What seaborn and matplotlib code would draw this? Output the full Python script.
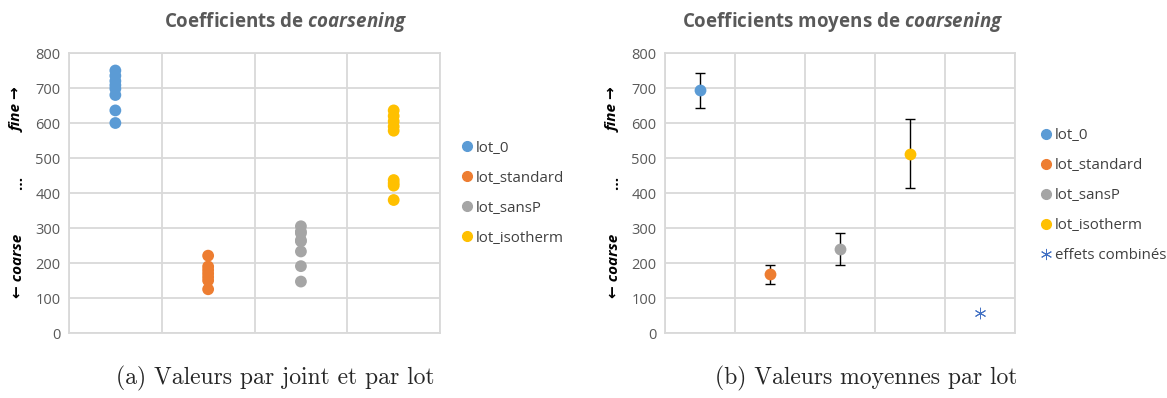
import pandas as pd
import matplotlib.pyplot as plt
import seaborn as sns
from matplotlib.lines import Line2D

# per-joint values
lots = ['lot_0', 'lot_standard', 'lot_sansP', 'lot_isotherm']
lot_0 = [750, 735, 720, 708, 698, 680, 636, 600]
lot_standard = [221, 190, 180, 170, 160, 150, 125]
lot_sansP = [305, 290, 285, 265, 262, 233, 191, 147]
lot_isotherm = [636, 620, 605, 590, 578, 437, 428, 421, 380]

# means and half-widths of the error bars, right panel
mean_lots = ['lot_0', 'lot_standard', 'lot_sansP', 'lot_isotherm', 'effets combinés']
mean_vals = [693, 168, 240, 512, 57]
mean_err = [49, 27, 47, 99, 0]

colors = ['#5B9BD5', '#ED7D31', '#A5A5A5', '#FFC000', '#4472C4']
grid_c = '#D9D9D9'
txt_c = '#595959'

sns.set_theme(style='white')
plt.rcParams['font.family'] = ['Open Sans', 'DejaVu Sans']
plt.rcParams['mathtext.fontset'] = 'custom'
plt.rcParams['mathtext.it'] = 'Open Sans:style=italic:weight=bold'

fig = plt.figure(figsize=(11.67, 3.98), dpi=100)
ax1 = fig.add_axes([0.0591, 0.1633, 0.318, 0.7035])
ax2 = fig.add_axes([0.5698, 0.1633, 0.300, 0.7035])

joints = pd.DataFrame({
    'lot': sum([[l] * len(v) for l, v in zip(lots, [lot_0, lot_standard, lot_sansP, lot_isotherm])], []),
    'valeur': lot_0 + lot_standard + lot_sansP + lot_isotherm,
})
sns.stripplot(data=joints, x='lot', y='valeur', hue='lot', palette=colors[:4],
              jitter=False, size=8.5, linewidth=0, legend=False, ax=ax1, zorder=3)

means = pd.DataFrame({'lot': mean_lots, 'valeur': mean_vals, 'err': mean_err})
sns.stripplot(data=means.iloc[:4], x='lot', y='valeur', hue='lot', order=mean_lots,
              palette=colors[:4], jitter=False, size=8.5, linewidth=0, legend=False,
              ax=ax2, zorder=3)
ax2.errorbar(range(4), mean_vals[:4], yerr=mean_err[:4], fmt='none', ecolor='black',
             elinewidth=1, capsize=3.5, capthick=1, zorder=2)
ax2.scatter([4], [mean_vals[4]], marker=(6, 2, 0), s=60, color=colors[4],
            linewidths=0.7, zorder=3)

for ax, n in [(ax1, 4), (ax2, 5)]:
    ax.set_xlim(-0.5, n - 0.5)
    ax.set_ylim(0, 800)
    ax.set_yticks(range(0, 801, 100))
    ax.set_xticks([i - 0.5 for i in range(n + 1)])
    ax.set_xticklabels([])
    ax.tick_params(axis='x', length=0)
    ax.tick_params(axis='y', length=0, labelsize=10.5, labelcolor=txt_c, pad=6)
    ax.grid(True, color=grid_c, linewidth=1.3)
    ax.set_axisbelow(True)
    ax.set_xlabel('')
    ax.set_ylabel('')
    for s in ax.spines.values():
        s.set_color(grid_c)
        s.set_linewidth(1.3)

# titles
fig.text(0.245, 0.945, 'Coefficients de $coarsening$', ha='center', va='center',
         fontsize=13.5, fontweight='bold', color=txt_c)
fig.text(0.722, 0.945, 'Coefficients moyens de $coarsening$', ha='center', va='center',
         fontsize=13.5, fontweight='bold', color=txt_c)

# rotated y annotations
for x in [18 / 1167, 614 / 1167]:
    fig.text(x, 1 - 110 / 398, 'fine →', rotation=90, ha='center', va='center',
             fontsize=11, fontweight='bold', style='italic', color='black')
    fig.text(x, 1 - 183 / 398, '…', rotation=90, ha='center', va='center',
             fontsize=11, fontweight='bold', color='black')
    fig.text(x, 1 - 266 / 398, '← coarse', rotation=90, ha='center', va='center',
             fontsize=11, fontweight='bold', style='italic', color='black')

# legends
h1 = [Line2D([], [], marker='o', linestyle='', color=c, markersize=7) for c in colors[:4]]
ax1.legend(h1, lots, loc='upper left', bbox_to_anchor=(1.015, 0.735), frameon=False,
           fontsize=10.8, handletextpad=0.1, labelspacing=1.0, handlelength=1.0,
           labelcolor='#404040')
h2 = h1 + [Line2D([], [], marker=(6, 2, 0), linestyle='', color=colors[4], markersize=8,
                  markeredgewidth=0.7)]
ax2.legend(h2, mean_lots, loc='upper left', bbox_to_anchor=(1.029, 0.78), frameon=False,
           fontsize=10.8, handletextpad=0.1, labelspacing=1.0, handlelength=1.0,
           labelcolor='#404040')

# captions
fig.text(275 / 1167, 1 - 378 / 398, '(a) Valeurs par joint et par lot', ha='center',
         va='center', fontsize=17, family='cmr10')
fig.text(866 / 1167, 1 - 378 / 398, '(b) Valeurs moyennes par lot', ha='center',
         va='center', fontsize=17, family='cmr10')

fig.savefig('out.png', dpi=100)
